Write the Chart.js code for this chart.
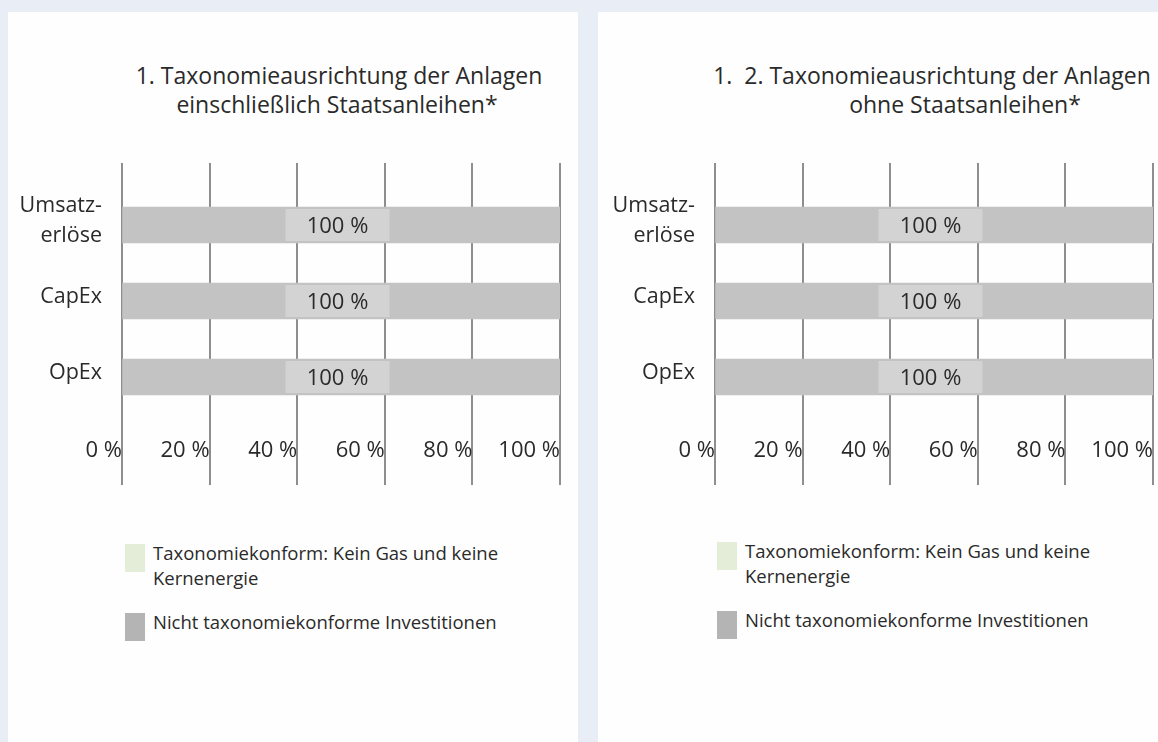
<!DOCTYPE html>
<html>
<head>
<meta charset="utf-8">
<script src="https://cdn.jsdelivr.net/npm/chart.js@4/dist/chart.umd.min.js"></script>
<style>
  body { margin: 0; width: 1158px; height: 742px; background: #e9edf5; position: relative; overflow: hidden;
         font-family: "Open Sans", sans-serif; color: #2a2a2a; }
  .panel { position: absolute; top: 12px; height: 730px; background: #fefefe; }
  canvas { position: absolute; }
  .title { position: absolute; width: 600px; text-align: center; font-size: 23px; line-height: 30px; white-space: pre; }
  .legend { position: absolute; font-size: 18.5px; line-height: 25px; }
  .legend .item { position: relative; margin-bottom: 19px; }
  .legend .sw { position: absolute; left: -28px; top: 4px; width: 20px; height: 28px; }
  .legend .txt { width: 400px; }
</style>
</head>
<body>
<div class="panel" style="left:8px;width:570px"></div>
<div class="panel" style="left:598px;width:560px"></div>

<div class="title" id="t1a" style="left:39px;top:60px"></div>
<div class="title" id="t1b" style="left:37px;top:89px"></div>
<div class="title" id="t2a" style="left:632px;top:60px"></div>
<div class="title" id="t2b" style="left:665px;top:89px"></div>

<canvas id="c1" width="578" height="473" style="left:0;top:12px"></canvas>
<canvas id="c2" width="568" height="473" style="left:590px;top:12px"></canvas>

<div class="legend" id="lg1" style="left:153px;top:540px"></div>
<div class="legend" id="lg2" style="left:745px;top:538px"></div>

<script>
// categories and values
const categories = [["Umsatz-", "erlöse"], "CapEx", "OpEx"];
const seriesNames = ["Taxonomiekonform: Kein Gas und keine Kernenergie", "Nicht taxonomiekonforme Investitionen"];
const alignedIncl = [0, 0, 0];
const notAlignedIncl = [100, 100, 100];
const alignedExcl = [0, 0, 0];
const notAlignedExcl = [100, 100, 100];
const xTickValues = [0, 20, 40, 60, 80, 100];
const xTickLabels = ["0 %", "20 %", "40 %", "60 %", "80 %", "100 %"];
const titleIncl = ["1. Taxonomieausrichtung der Anlagen", "einschließlich Staatsanleihen*"];
const titleExcl = ["1.  2. Taxonomieausrichtung der Anlagen", "ohne Staatsanleihen*"];

const colors = ["#e4edd8", "#c3c3c3"];
const gridColor = "#8e8e8e";
const textColor = "#2a2a2a";

document.getElementById("t1a").textContent = titleIncl[0];
document.getElementById("t1b").textContent = titleIncl[1];
document.getElementById("t2a").textContent = titleExcl[0];
document.getElementById("t2b").textContent = titleExcl[1];

function buildLegend(id) {
  const el = document.getElementById(id);
  seriesNames.forEach((name, i) => {
    const item = document.createElement("div");
    item.className = "item";
    const sw = document.createElement("div");
    sw.className = "sw";
    sw.style.background = i === 0 ? colors[0] : "#b4b4b4";
    const txt = document.createElement("div");
    txt.className = "txt";
    txt.textContent = name;
    item.appendChild(sw);
    item.appendChild(txt);
    el.appendChild(item);
  });
}
buildLegend("lg1");
buildLegend("lg2");

// label "100 %" on a lighter box in the middle of each bar
const valueLabels = {
  id: "valueLabels",
  afterDatasetsDraw(chart) {
    const ctx = chart.ctx;
    const meta = chart.getDatasetMeta(1);
    const vals = chart.data.datasets[1].data;
    ctx.save();
    meta.data.forEach((bar, i) => {
      const mid = (bar.x + bar.base) / 2;
      const h = bar.height;
      ctx.fillStyle = "#d3d3d3";
      ctx.fillRect(mid - 56, bar.y - h / 2 + 2, 104, h - 4);
      ctx.fillStyle = textColor;
      ctx.font = '22px "Open Sans", sans-serif';
      ctx.textAlign = "center";
      ctx.textBaseline = "middle";
      ctx.fillText(vals[i] + " %", mid - 4, bar.y + 2);
    });
    ctx.restore();
  }
};

function makeChart(id, aligned, notAligned, padLeft, yWidth, padRight) {
  return new Chart(document.getElementById(id), {
    type: "bar",
    data: {
      labels: categories,
      datasets: [
        { label: seriesNames[0], data: aligned, backgroundColor: colors[0], barThickness: 36 },
        { label: seriesNames[1], data: notAligned, backgroundColor: colors[1], barThickness: 36 }
      ]
    },
    options: {
      indexAxis: "y",
      responsive: false,
      animation: false,
      layout: { padding: { left: padLeft, right: padRight, top: 151, bottom: 0 } },
      plugins: { legend: { display: false }, tooltip: { enabled: false }, title: { display: false } },
      scales: {
        x: {
          type: "linear", position: "bottom", stacked: true, min: 0, max: 100,
          afterBuildTicks: (s) => { s.ticks = xTickValues.map(v => ({ value: v })); },
          afterFit: (s) => { s.height = 70; },
          grid: { color: gridColor, lineWidth: 2, drawTicks: true, tickLength: 70 },
          border: { display: false },
          ticks: {
            align: "end", padding: -47, color: textColor,
            font: { family: "Open Sans", size: 22 },
            callback: (v) => xTickLabels[xTickValues.indexOf(v)]
          }
        },
        x2: {
          type: "linear", position: "top", min: 0, max: 100,
          afterBuildTicks: (s) => { s.ticks = xTickValues.map(v => ({ value: v })); },
          grid: { color: gridColor, lineWidth: 2, drawOnChartArea: false, tickLength: 24 },
          border: { display: false },
          ticks: { display: false }
        },
        y: {
          stacked: true,
          afterFit: (s) => { s.width = yWidth; },
          grid: { display: false },
          border: { display: false },
          ticks: { color: textColor, padding: 12, labelOffset: -4, font: { family: "Open Sans", size: 21.5, lineHeight: 1.4 } }
        }
      }
    },
    plugins: [valueLabels]
  });
}

makeChart("c1", alignedIncl, notAlignedIncl, 10, 112, 18);
makeChart("c2", alignedExcl, notAlignedExcl, 10, 115, 5);
</script>
</body>
</html>
